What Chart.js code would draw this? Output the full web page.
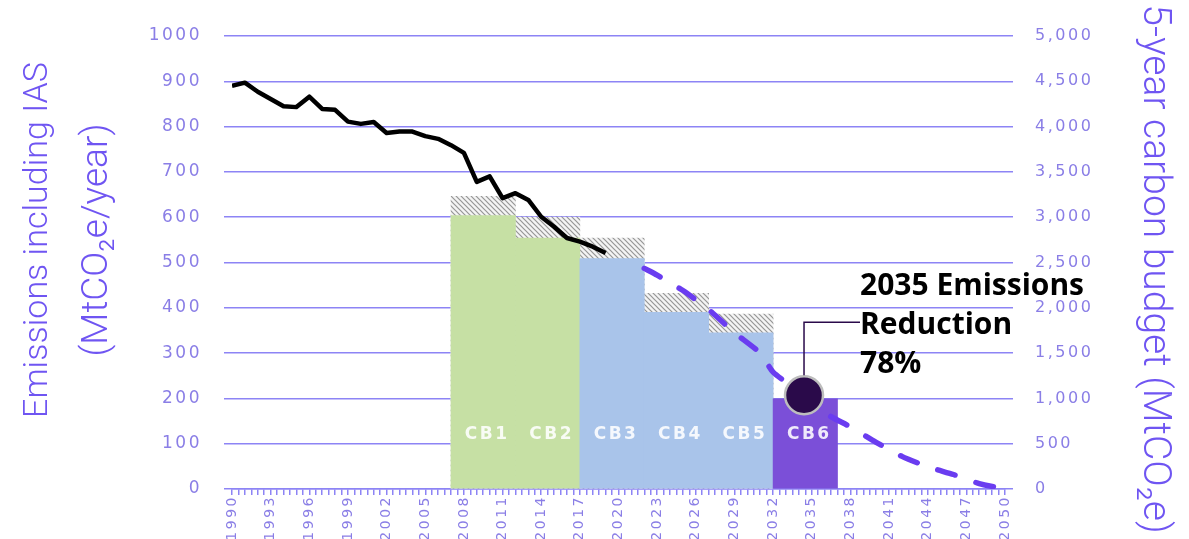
<!DOCTYPE html>
<html>
<head>
<meta charset="utf-8">
<script src="https://cdn.jsdelivr.net/npm/chart.js@4.4.1/dist/chart.umd.min.js"></script>
<style>
  html, body { margin: 0; padding: 0; background: #fff; }
  #wrap { width: 1189px; height: 539px; position: relative; }
</style>
</head>
<body>
<div id="wrap"><canvas id="chart"></canvas></div>
<script>
// historic emissions incl. IAS, MtCO2e/year (left axis)
const histYears = [1990,1991,1992,1993,1994,1995,1996,1997,1998,1999,2000,2001,2002,2003,2004,
                   2005,2006,2007,2008,2009,2010,2011,2012,2013,2014,2015,2016,2017,2018,2019];
const histValues = [890,897,877,861,845,843,866,839,837,811,806,810,786,789,789,
                    779,773,759,742,678,690,642,653,638,601,579,554,546,535,521];

// pathway to net zero (dashed)
const projYears = [2022,2023,2025,2027,2029,2031,2032,2034,2036,2038,2040,2042,2044,2046,2048,2050];
const projValues = [487,472,438,396,345,300,258,215,168,137,103,72,49,32,12,0];

// carbon budgets, MtCO2e per 5 years (right axis)
const budgetNames = ["CB1","CB2","CB3","CB4","CB5","CB6"];
const budgetFrom = [2007,2012,2017,2022,2027,2032];
const budgetTo = [2012,2017,2022,2027,2032,2037];
const budgetValues = [3018,2770,2544,1950,1725,995];
const budgetWithIAS = [3230,3000,2770,2160,1930];
const budgetColors = ["#c6e0a4","#c6e0a4","#a9c4ea","#a9c4ea","#a9c4ea","#7b4fd8"];

// 2035 marker
const markerYear = 2034.4;
const markerValue = 207;
const markerText = ["2035 Emissions","Reduction","78%"];

// axes
const leftTicks = [0,100,200,300,400,500,600,700,800,900,1000];
const rightTicks = [0,500,1000,1500,2000,2500,3000,3500,4000,4500,5000];
const labelYears = [1990,1993,1996,1999,2002,2005,2008,2011,2014,2017,2020,
                    2023,2026,2029,2032,2035,2038,2041,2044,2047,2050];
const leftTitle = ["Emissions including IAS","(MtCO\u2082e/year)"];
const rightTitle = "5-year carbon budget (MtCO\u2082e)";

const gridColor = "#8d84f5";
const tickColor = "#8a7ee6";
const titleColor = "#6f55f2";

function hatchPattern() {
  const c = document.createElement("canvas");
  c.width = 5; c.height = 5;
  const g = c.getContext("2d");
  g.fillStyle = "#f4f4f4";
  g.fillRect(0, 0, 5, 5);
  g.strokeStyle = "#969696";
  g.lineWidth = 1.2;
  g.beginPath();
  g.moveTo(-1, -1); g.lineTo(6, 6);
  g.moveTo(-1, 4); g.lineTo(1, 6);
  g.moveTo(4, -1); g.lineTo(6, 1);
  g.stroke();
  return g.createPattern(c, "repeat");
}

const mids = budgetFrom.map((f, i) => (f + budgetTo[i]) / 2);

const spacing = {
  id: "spacing",
  beforeLayout(chart) { chart.ctx.letterSpacing = "2.5px"; },
  beforeDraw(chart) { chart.ctx.letterSpacing = "2.5px"; }
};

const decor = {
  id: "decor",
  afterDatasetsDraw(chart) {
    const ctx = chart.ctx;
    const sx = chart.scales.x, sy = chart.scales.y;
    ctx.save();
    // budget labels
    ctx.letterSpacing = "2.5px";
    ctx.font = "bold 17px 'DejaVu Sans'";
    ctx.fillStyle = "rgba(255,255,255,0.88)";
    ctx.textAlign = "center";
    ctx.textBaseline = "middle";
    budgetNames.forEach((n, i) => {
      ctx.fillText(n, sx.getPixelForValue(mids[i]) + 4, sy.getPixelForValue(120));
    });
    // marker callout
    const el = chart.getDatasetMeta(4).data[0];
    const cx = el.x, cy = el.y;
    ctx.strokeStyle = "#2a0a4a";
    ctx.lineWidth = 1.5;
    ctx.beginPath();
    ctx.moveTo(cx, cy - 20);
    ctx.lineTo(cx, cy - 73);
    ctx.lineTo(cx + 56, cy - 73);
    ctx.stroke();
    ctx.letterSpacing = "0px";
    ctx.font = "700 30px 'Open Sans'";
    ctx.fillStyle = "#000";
    ctx.textAlign = "left";
    ctx.textBaseline = "alphabetic";
    markerText.forEach((t, i) => ctx.fillText(t, cx + 56, cy - 100 + i * 39));
    ctx.restore();
  },
  afterDraw(chart) {
    const ctx = chart.ctx;
    ctx.save();
    ctx.letterSpacing = "0px";
    ctx.fillStyle = titleColor;
    ctx.textAlign = "center";
    ctx.textBaseline = "middle";
    [[38, 34], [98, 37]].forEach(([x, size], i) => {
      ctx.save();
      ctx.font = "300 " + size + "px Roboto";
      ctx.translate(x, 240);
      ctx.rotate(-Math.PI / 2);
      ctx.fillText(leftTitle[i], 0, 0);
      ctx.restore();
    });
    ctx.font = "300 39px Roboto";
    ctx.translate(1154, 269);
    ctx.rotate(Math.PI / 2);
    ctx.fillText(rightTitle, 0, 0);
    ctx.restore();
  }
};

new Chart(document.getElementById("chart"), {
  type: "line",
  data: {
    datasets: [
      {
        type: "bar",
        data: budgetWithIAS.map((v, i) => ({ x: mids[i], y: v })),
        backgroundColor: hatchPattern(),
        xAxisID: "xb", yAxisID: "y2",
        grouped: false, barPercentage: 1, categoryPercentage: 1,
        borderWidth: 0, order: 6
      },
      {
        type: "bar",
        data: budgetValues.map((v, i) => ({ x: mids[i], y: v })),
        backgroundColor: budgetColors,
        xAxisID: "xb", yAxisID: "y2",
        grouped: false, barPercentage: 1, categoryPercentage: 1,
        borderWidth: 0, order: 5
      },
      {
        data: histYears.map((y, i) => ({ x: y, y: histValues[i] })),
        borderColor: "#000", borderWidth: 4.5, borderJoinStyle: "round",
        pointRadius: 0, tension: 0, xAxisID: "x", yAxisID: "y", order: 2
      },
      {
        data: projYears.map((y, i) => ({ x: y, y: projValues[i] })),
        borderColor: "#6a3cf0", borderWidth: 5.5, borderDash: [18, 22], borderCapStyle: "round",
        pointRadius: 0, tension: 0.2, xAxisID: "x", yAxisID: "y", order: 1
      },
      {
        type: "scatter",
        data: [{ x: markerYear, y: markerValue }],
        pointRadius: 19, backgroundColor: "#2a0a4a", borderColor: "#bdbdbd", borderWidth: 2.5,
        xAxisID: "x", yAxisID: "y", order: 0
      }
    ]
  },
  options: {
    responsive: true,
    maintainAspectRatio: false,
    animation: false,
    layout: { padding: { top: 36, left: 0, right: 0, bottom: 0 } },
    plugins: { legend: { display: false }, tooltip: { enabled: false } },
    scales: {
      x: {
        type: "linear", min: 1990, max: 2050, position: "bottom",
        ticks: {
          stepSize: 0.5, autoSkip: false, maxRotation: 90, minRotation: 90, padding: 0,
          color: tickColor, font: { family: "DejaVu Sans", size: 14 },
          callback: v => labelYears.includes(v) ? String(v) : ""
        },
        grid: { drawOnChartArea: false, drawTicks: true, tickLength: 6, color: gridColor, lineWidth: 1.5 },
        border: { display: true, color: gridColor, width: 1.5 },
        afterFit: s => { s.height = 50; }
      },
      xb: { type: "linear", display: false, min: 1990, max: 2050, offset: false, ticks: { stepSize: 5 } },
      y: {
        position: "left", min: 0, max: 1000,
        afterBuildTicks: s => { s.ticks = leftTicks.map(v => ({ value: v })); },
        ticks: { color: tickColor, font: { family: "DejaVu Sans", size: 17 }, padding: 22, callback: v => String(v) },
        grid: { color: gridColor, lineWidth: 1.5, tickLength: 8 },
        border: { display: false },
        afterFit: s => { s.width = 232; }
      },
      y2: {
        position: "right", min: 0, max: 5000,
        afterBuildTicks: s => { s.ticks = rightTicks.map(v => ({ value: v })); },
        ticks: {
          color: tickColor, font: { family: "DejaVu Sans", size: 16 }, padding: 22,
          callback: v => v.toLocaleString("en-US")
        },
        grid: { drawOnChartArea: false, color: gridColor, lineWidth: 1.5, tickLength: 8 },
        border: { display: false },
        afterFit: s => { s.width = 184; }
      }
    }
  },
  plugins: [spacing, decor]
});
</script>
</body>
</html>
